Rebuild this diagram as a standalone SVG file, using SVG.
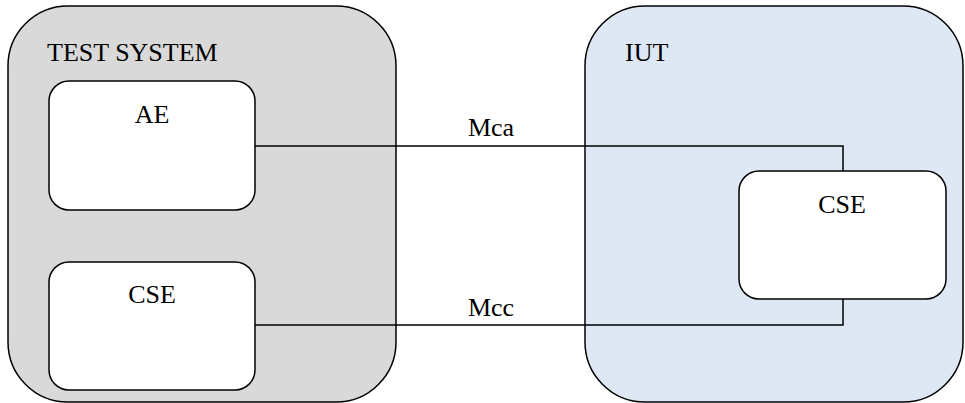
<svg xmlns="http://www.w3.org/2000/svg" width="965" height="403" viewBox="0 0 965 403">
<style>
.box{stroke:#000;stroke-width:1.5}
.inner{fill:#fff;stroke:#000;stroke-width:1.5}
.t{font-family:'Liberation Serif','Times New Roman',serif;font-size:26px;fill:#000}
.c{fill:none;stroke:#000;stroke-width:1.5}
</style>
<rect width="965" height="403" fill="#fff"/>
<g id="test-system">
<rect class="box" x="8" y="6" width="388" height="396" rx="60" ry="60" fill="#d9d9d9"/>
<text class="t" x="47" y="61">TEST SYSTEM</text>
</g>
<g id="iut">
<rect class="box" x="585" y="6" width="378" height="396" rx="60" ry="60" fill="#dee8f4"/>
<text class="t" x="625" y="61">IUT</text>
</g>
<g id="connectors">
<polyline class="c" points="255,146 843,146 843,171"/>
<polyline class="c" points="255,325 843,325 843,299"/>
<text class="t" x="491" y="136" text-anchor="middle">Mca</text>
<text class="t" x="491" y="316" text-anchor="middle">Mcc</text>
</g>
<g id="ae">
<rect class="inner" x="49" y="81" width="206" height="129" rx="20" ry="20"/>
<text class="t" x="152" y="123" text-anchor="middle">AE</text>
</g>
<g id="cse-test">
<rect class="inner" x="49" y="262" width="206" height="128" rx="20" ry="20"/>
<text class="t" x="152" y="303" text-anchor="middle">CSE</text>
</g>
<g id="cse-iut">
<rect class="inner" x="739" y="171" width="207" height="128" rx="20" ry="20"/>
<text class="t" x="842" y="213" text-anchor="middle">CSE</text>
</g>
</svg>
